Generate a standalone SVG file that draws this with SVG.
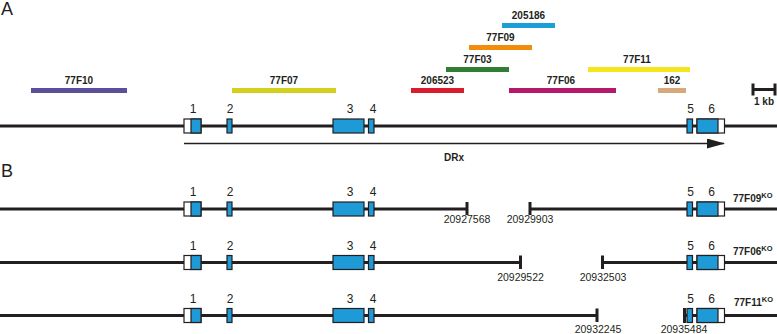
<svg xmlns="http://www.w3.org/2000/svg" xmlns:xlink="http://www.w3.org/1999/xlink" width="777" height="334" viewBox="0 0 777 334">
<style>
.t{font-family:"Liberation Sans",Arial,sans-serif;fill:#231f20}
.b{font-weight:bold;font-size:10px}
.n{font-size:12px}
.c{font-size:10.5px}
.p{font-size:18px}
.ln{stroke:#231f20;stroke-width:3;fill:none}
.tk{stroke:#231f20;stroke-width:3}
.ex{fill:#1e9ad6;stroke:#231f20;stroke-width:1.2}
.ut{fill:#fff;stroke:#231f20;stroke-width:1.2}
</style>
<defs>
<g id="exons">
<rect class="ut" x="184" y="-7" width="17" height="14"/>
<rect class="ex" x="191" y="-7" width="10" height="14"/>
<rect class="ex" x="227" y="-7" width="5" height="14"/>
<rect class="ex" x="333" y="-7" width="31" height="14"/>
<rect class="ex" x="368.5" y="-7" width="5.5" height="14"/>
<rect class="ex" x="687" y="-7" width="5.5" height="14"/>
<rect class="ut" x="697" y="-7" width="27.5" height="14"/>
<rect class="ex" x="697" y="-7" width="21" height="14"/>
<g class="t n" text-anchor="middle">
<text x="193" y="-13">1</text>
<text x="230" y="-13">2</text>
<text x="350" y="-13">3</text>
<text x="373" y="-13">4</text>
<text x="690.5" y="-13">5</text>
<text x="711.5" y="-13">6</text>
</g>
</g>
<marker id="ah" markerWidth="18" markerHeight="10" refX="17" refY="5" orient="auto" markerUnits="userSpaceOnUse">
<path d="M0,0 L18,5 L0,10 Z" fill="#231f20"/>
</marker>
</defs>

<text class="t p" x="1" y="15">A</text>
<text class="t p" x="1" y="177">B</text>

<g id="clones">
<g id="c77F10"><rect x="31" y="88" width="96" height="5" fill="#5b4e9b"/><text class="t b" x="79" y="84" text-anchor="middle">77F10</text></g>
<g id="c77F07"><rect x="232" y="88" width="104" height="5" fill="#d3cf1d"/><text class="t b" x="284" y="84" text-anchor="middle">77F07</text></g>
<g id="c206523"><rect x="411" y="88" width="53" height="5" fill="#da1a2d"/><text class="t b" x="437.5" y="84" text-anchor="middle">206523</text></g>
<g id="c77F03"><rect x="446" y="67" width="63" height="5" fill="#2f7e31"/><text class="t b" x="477.5" y="63" text-anchor="middle">77F03</text></g>
<g id="c77F09"><rect x="469" y="45" width="63" height="5" fill="#f28c0c"/><text class="t b" x="500.5" y="41" text-anchor="middle">77F09</text></g>
<g id="c205186"><rect x="502" y="23" width="53" height="5" fill="#1c9ed8"/><text class="t b" x="528.5" y="19" text-anchor="middle">205186</text></g>
<g id="c77F06"><rect x="509" y="88" width="107" height="5" fill="#b5186b"/><text class="t b" x="561" y="84" text-anchor="middle">77F06</text></g>
<g id="c77F11"><rect x="588" y="67" width="102" height="5" fill="#f6e41c"/><text class="t b" x="637" y="63" text-anchor="middle">77F11</text></g>
<g id="c162"><rect x="658" y="88" width="28" height="5" fill="#d8a87b"/><text class="t b" x="672" y="84" text-anchor="middle">162</text></g>
</g>

<g id="scalebar">
<path d="M753,89.5 H775 M753,83.5 V95.5 M775,83.5 V95.5" stroke="#231f20" stroke-width="3" fill="none"/>
<text class="t b" x="764" y="105" text-anchor="middle">1 kb</text>
</g>

<g id="connectors">
<line class="ln" x1="0" y1="126" x2="777" y2="126"/>
<line x1="184" y1="143.5" x2="724" y2="143.5" stroke="#231f20" stroke-width="1.5" marker-end="url(#ah)"/>
<path class="ln" d="M0,209 H467 M530,209 H777"/>
<path class="tk" d="M467,202 V215 M530,202 V215"/>
<path class="ln" d="M0,262.5 H520.5 M602.5,262.5 H777"/>
<path class="tk" d="M520.5,255.5 V269 M602.5,255.5 V269"/>
<path class="ln" d="M0,315.5 H597 M684,315.5 H777"/>
<path class="tk" d="M597,308.5 V322 M684.5,308 V323"/>
</g>

<g id="geneA"><use xlink:href="#exons" transform="translate(0,126)"/>
<text class="t b" x="454" y="160.5" text-anchor="middle">DRx</text></g>

<g id="ko77F09">
<use xlink:href="#exons" transform="translate(0,209)"/>
<text class="t c" x="467" y="223" text-anchor="middle">20927568</text>
<text class="t c" x="530" y="223" text-anchor="middle">20929903</text>
<text class="t b" x="733" y="202">77F09<tspan font-size="7.5" dy="-4">KO</tspan></text>
</g>

<g id="ko77F06">
<use xlink:href="#exons" transform="translate(0,262.5)"/>
<text class="t c" x="520.5" y="280.5" text-anchor="middle">20929522</text>
<text class="t c" x="603" y="280.5" text-anchor="middle">20932503</text>
<text class="t b" x="733" y="255">77F06<tspan font-size="7.5" dy="-4">KO</tspan></text>
</g>

<g id="ko77F11">
<use xlink:href="#exons" transform="translate(0,315.5)"/>
<text class="t c" x="598" y="333" text-anchor="middle">20932245</text>
<text class="t c" x="684" y="333" text-anchor="middle">20935484</text>
<text class="t b" x="734" y="306">77F11<tspan font-size="7.5" dy="-4">KO</tspan></text>
</g>
</svg>
